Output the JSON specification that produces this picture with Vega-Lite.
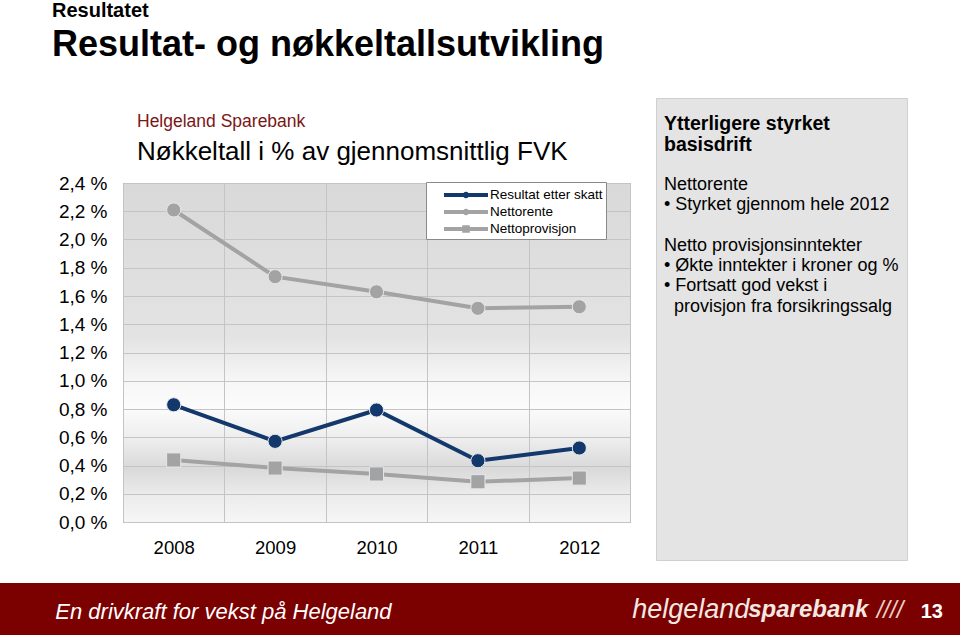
{
  "$schema": "https://vega.github.io/schema/vega-lite/v6.json",
  "background": "white",
  "padding": 0,
  "config": {
    "font": "Liberation Sans",
    "view": {"stroke": null}
  },
  "title": {
    "text": "Resultatet",
    "subtitle": "Resultat- og nøkkeltallsutvikling",
    "anchor": "start",
    "frame": "bounds",
    "dx": 52,
    "fontSize": 20,
    "fontWeight": "bold",
    "color": "#000000",
    "subtitleFontSize": 36,
    "subtitleFontWeight": "bold",
    "subtitleColor": "#000000",
    "subtitlePadding": 7,
    "offset": 35
  },
  "datasets": {
    "nokkeltall": [
      {"aar": "2008", "serie": "Resultat etter skatt", "verdi": 0.83},
      {"aar": "2009", "serie": "Resultat etter skatt", "verdi": 0.571},
      {"aar": "2010", "serie": "Resultat etter skatt", "verdi": 0.793},
      {"aar": "2011", "serie": "Resultat etter skatt", "verdi": 0.434},
      {"aar": "2012", "serie": "Resultat etter skatt", "verdi": 0.524},
      {"aar": "2008", "serie": "Nettorente", "verdi": 2.209},
      {"aar": "2009", "serie": "Nettorente", "verdi": 1.737},
      {"aar": "2010", "serie": "Nettorente", "verdi": 1.63},
      {"aar": "2011", "serie": "Nettorente", "verdi": 1.513},
      {"aar": "2012", "serie": "Nettorente", "verdi": 1.524},
      {"aar": "2008", "serie": "Nettoprovisjon", "verdi": 0.439},
      {"aar": "2009", "serie": "Nettoprovisjon", "verdi": 0.382},
      {"aar": "2010", "serie": "Nettoprovisjon", "verdi": 0.34},
      {"aar": "2011", "serie": "Nettoprovisjon", "verdi": 0.285},
      {"aar": "2012", "serie": "Nettoprovisjon", "verdi": 0.311}
    ],
    "diagramtittel": [
      {"linje": 0, "stil": "bank", "tekst": "Helgeland Sparebank"},
      {"linje": 1, "stil": "tittel", "tekst": "Nøkkeltall i % av gjennomsnittlig FVK"}
    ],
    "tekstboks": [
      {"linje": 0, "stil": "overskrift", "tekst": "Ytterligere styrket"},
      {"linje": 1, "stil": "overskrift", "tekst": "basisdrift"},
      {"linje": 3, "stil": "brod", "tekst": "Nettorente"},
      {"linje": 4, "stil": "brod", "tekst": "• Styrket gjennom hele 2012"},
      {"linje": 6, "stil": "brod", "tekst": "Netto provisjonsinntekter"},
      {"linje": 7, "stil": "brod", "tekst": "• Økte inntekter i kroner og %"},
      {"linje": 8, "stil": "brod", "tekst": "• Fortsatt god vekst i"},
      {"linje": 9, "stil": "innrykk", "tekst": "provisjon fra forsikringssalg"}
    ],
    "bunntekst": [
      {"del": "slagord", "ord": "slagord", "tekst": "En drivkraft for vekst på Helgeland"},
      {"del": "helgeland", "ord": "helgeland", "tekst": "helgeland"},
      {"del": "helgeland", "ord": "sparebank", "tekst": "sparebank"},
      {"del": "side", "ord": "logo", "tekst": "////"},
      {"del": "side", "ord": "side", "tekst": "13"}
    ]
  },
  "concat": [
    {
      "hconcat": [
        {
          "vconcat": [
            {
              "width": 629,
              "height": 76,
              "data": {"name": "diagramtittel"},
              "encoding": {
                "x": {"datum": 0, "type": "quantitative", "scale": {"domain": [0, 1]}, "axis": null},
                "y": {
                  "field": "linje",
                  "type": "quantitative",
                  "scale": {"domain": [-0.8, 1.7333], "reverse": true, "nice": false, "zero": false},
                  "axis": null
                },
                "text": {"field": "tekst"}
              },
              "layer": [
                {
                  "transform": [{"filter": "datum.stil === 'bank'"}],
                  "mark": {"type": "text", "align": "left", "baseline": "middle", "dx": 137, "fontSize": 17.5, "color": "#7a1616"}
                },
                {
                  "transform": [{"filter": "datum.stil === 'tittel'"}],
                  "mark": {"type": "text", "align": "left", "baseline": "middle", "dx": 137, "fontSize": 26, "color": "#000000"}
                }
              ]
            },
            {
              "hconcat": [
                {
                  "width": 122,
                  "height": 339,
                  "data": {"name": "nokkeltall"},
                  "mark": {"type": "point", "opacity": 0, "size": 0},
                  "encoding": {
                    "y": {
                      "field": "verdi",
                      "type": "quantitative",
                      "scale": {"domain": [0, 2.4], "nice": false},
                      "axis": {
                        "title": null,
                        "values": [0, 0.2, 0.4, 0.6, 0.8, 1.0, 1.2, 1.4, 1.6, 1.8, 2.0, 2.2, 2.4],
                        "labelExpr": "replace(format(datum.value, '.1f'), '.', ',') + ' %'",
                        "domain": false,
                        "ticks": false,
                        "grid": false,
                        "offset": -107,
                        "labelPadding": 0,
                        "labelFontSize": 19,
                        "labelColor": "#000000",
                        "minExtent": 0
                      }
                    }
                  }
                },
                {
                  "width": 507,
                  "height": 339,
                  "view": {
                    "stroke": "#8c8c8c",
                    "strokeWidth": 1,
                    "fill": {
                      "gradient": "linear",
                      "x1": 0, "y1": 0, "x2": 0, "y2": 1,
                      "stops": [
                        {"offset": 0, "color": "#d9d9d9"},
                        {"offset": 0.45, "color": "#e3e3e3"},
                        {"offset": 0.58, "color": "#f6f6f6"},
                        {"offset": 0.66, "color": "#fcfcfc"},
                        {"offset": 0.76, "color": "#ececec"},
                        {"offset": 0.84, "color": "#d9d9d9"},
                        {"offset": 0.92, "color": "#ececec"},
                        {"offset": 1, "color": "#f6f6f6"}
                      ]
                    }
                  },
                  "data": {"name": "nokkeltall"},
                  "encoding": {
                    "x": {
                      "field": "aar",
                      "type": "ordinal",
                      "scale": {"type": "band", "paddingInner": 0, "paddingOuter": 0},
                      "axis": {
                        "title": null,
                        "labelAngle": 0,
                        "domain": false,
                        "ticks": false,
                        "tickBand": "extent",
                        "grid": true,
                        "gridColor": "#c4c4c4",
                        "labelPadding": 16,
                        "labelFontSize": 18.5,
                        "labelColor": "#000000"
                      }
                    },
                    "y": {
                      "field": "verdi",
                      "type": "quantitative",
                      "scale": {"domain": [0, 2.4], "nice": false},
                      "axis": {
                        "title": null,
                        "values": [0, 0.2, 0.4, 0.6, 0.8, 1.0, 1.2, 1.4, 1.6, 1.8, 2.0, 2.2, 2.4],
                        "labels": false,
                        "domain": false,
                        "ticks": false,
                        "grid": true,
                        "gridColor": "#c4c4c4",
                        "minExtent": 0
                      }
                    },
                    "color": {
                      "field": "serie",
                      "type": "nominal",
                      "scale": {
                        "domain": ["Resultat etter skatt", "Nettorente", "Nettoprovisjon"],
                        "range": ["#13386b", "#a3a3a3", "#a3a3a3"]
                      },
                      "legend": {
                        "title": null,
                        "orient": "none",
                        "legendX": 303,
                        "legendY": -1,
                        "fillColor": "#ffffff",
                        "strokeColor": "#8a8a8a",
                        "padding": 3,
                        "symbolSize": 400,
                        "symbolOffset": 27,
                        "labelOffset": 14,
                        "labelFontSize": 13.5,
                        "labelColor": "#000000",
                        "rowPadding": 0,
                        "encode": {
                          "symbols": {
                            "update": {
                              "shape": {"signal": "datum.value === 'Nettoprovisjon' ? 'M-2.2,-0.2L2.2,-0.2L2.2,0.2L-2.2,0.2Z M-0.38,-0.38L0.38,-0.38L0.38,0.38L-0.38,0.38Z' : 'M-2.2,-0.2L2.2,-0.2L2.2,0.2L-2.2,0.2Z M-0.32,0A0.32,0.32,0,1,1,0.32,0A0.32,0.32,0,1,1,-0.32,0Z'"},
                              "fill": {"signal": "datum.value === 'Resultat etter skatt' ? '#13386b' : '#a3a3a3'"},
                              "strokeWidth": {"value": 0},
                              "opacity": {"value": 1}
                            }
                          }
                        }
                      }
                    }
                  },
                  "layer": [
                    {"mark": {"type": "line", "strokeWidth": 4}},
                    {
                      "transform": [{"filter": "datum.serie !== 'Nettoprovisjon'"}],
                      "mark": {"type": "point", "shape": "circle", "filled": true, "opacity": 1, "size": 200, "stroke": "#e4e8ee", "strokeWidth": 1}
                    },
                    {
                      "transform": [{"filter": "datum.serie === 'Nettoprovisjon'"}],
                      "mark": {"type": "point", "shape": "square", "filled": true, "opacity": 1, "size": 200, "stroke": "#e4e8ee", "strokeWidth": 1}
                    }
                  ]
                }
              ],
              "spacing": 0,
              "resolve": {"legend": {"color": "independent"}}
            }
          ],
          "spacing": 0,
          "resolve": {"legend": {"color": "independent"}}
        },
        {
          "width": 251,
          "height": 462,
          "view": {"fill": "#e4e4e4", "stroke": "#cfcfcf"},
          "data": {"name": "tekstboks"},
          "encoding": {
            "x": {"datum": 0, "type": "quantitative", "scale": {"domain": [0, 1]}, "axis": null},
            "y": {
              "field": "linje",
              "type": "quantitative",
              "scale": {"domain": [-1.3, 21.5], "reverse": true, "nice": false, "zero": false},
              "axis": null
            },
            "text": {"field": "tekst"}
          },
          "layer": [
            {
              "transform": [{"filter": "datum.stil === 'overskrift'"}],
              "mark": {"type": "text", "align": "left", "baseline": "middle", "dx": 8, "fontSize": 19.5, "fontWeight": "bold", "color": "#000000"}
            },
            {
              "transform": [{"filter": "datum.stil === 'brod'"}],
              "mark": {"type": "text", "align": "left", "baseline": "middle", "dx": 8, "fontSize": 18, "color": "#000000"}
            },
            {
              "transform": [{"filter": "datum.stil === 'innrykk'"}],
              "mark": {"type": "text", "align": "left", "baseline": "middle", "dx": 18, "fontSize": 18, "color": "#000000"}
            }
          ]
        }
      ],
      "spacing": 24,
      "resolve": {"legend": {"color": "independent"}}
    },
    {
      "width": 960,
      "height": 53,
      "view": {"fill": "#7b0000", "stroke": null},
      "data": {"name": "bunntekst"},
      "encoding": {
        "x": {
          "field": "del",
          "type": "nominal",
          "scale": {"type": "point", "domain": ["slagord", "tom", "helgeland", "side"], "padding": 0.164},
          "axis": null
        },
        "text": {"field": "tekst"}
      },
      "layer": [
        {
          "transform": [{"filter": "datum.ord === 'slagord'"}],
          "mark": {"type": "text", "align": "left", "baseline": "middle", "dx": 8, "dy": 2, "fontSize": 22, "fontStyle": "italic", "color": "#ffffff"}
        },
        {
          "transform": [{"filter": "datum.ord === 'helgeland'"}],
          "mark": {"type": "text", "align": "left", "baseline": "middle", "dx": 8, "dy": 0, "fontSize": 27, "fontStyle": "italic", "color": "#f3e8e2"}
        },
        {
          "transform": [{"filter": "datum.ord === 'sparebank'"}],
          "mark": {"type": "text", "align": "left", "baseline": "middle", "dx": 124, "dy": 0, "fontSize": 24, "fontStyle": "italic", "fontWeight": "bold", "color": "#f3e8e2"}
        },
        {
          "transform": [{"filter": "datum.ord === 'logo'"}],
          "mark": {"type": "text", "align": "left", "baseline": "middle", "dx": -36, "dy": 1, "fontSize": 24, "fontStyle": "italic", "color": "#ead2c4"}
        },
        {
          "transform": [{"filter": "datum.ord === 'side'"}],
          "mark": {"type": "text", "align": "left", "baseline": "middle", "dx": 8, "dy": 2, "fontSize": 20, "fontWeight": "bold", "color": "#ffffff"}
        }
      ]
    }
  ],
  "columns": 1,
  "spacing": 22
}
